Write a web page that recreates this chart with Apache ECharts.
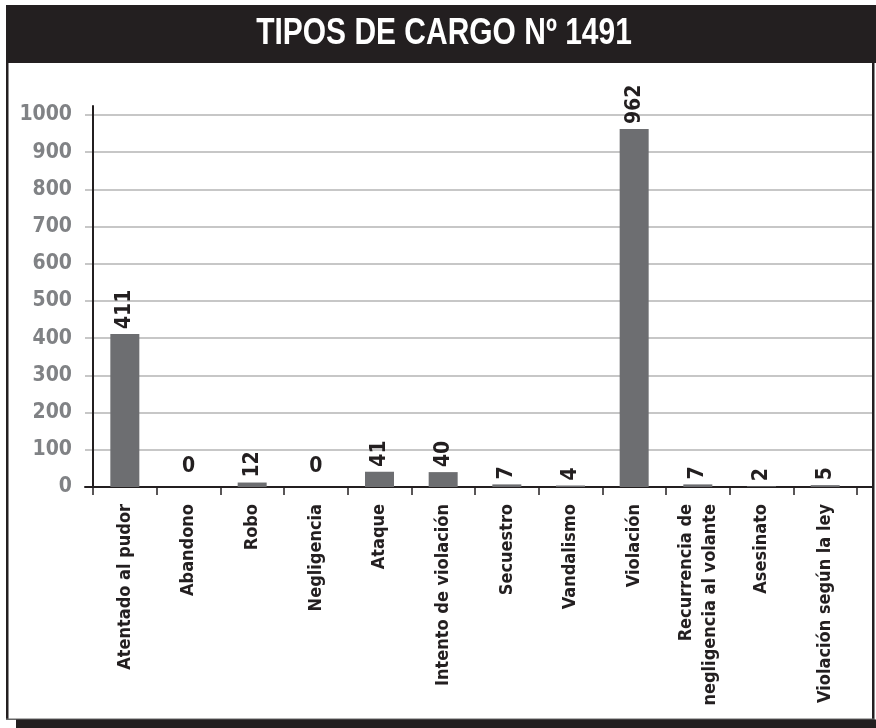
<!DOCTYPE html>
<html>
<head>
<meta charset="utf-8">
<script src="https://cdn.jsdelivr.net/npm/echarts@6/dist/echarts.min.js"></script>
<style>
  html, body { margin: 0; padding: 0; background: #fff; }
  #main { width: 876px; height: 728px; }
</style>
</head>
<body>
<div id="main"></div>
<script>
var titleText = 'TIPOS DE CARGO Nº 1491';
var categories = [
    'Atentado al pudor', 'Abandono', 'Robo', 'Negligencia', 'Ataque',
    'Intento de violación', 'Secuestro', 'Vandalismo', 'Violación',
    'Recurrencia de\nnegligencia al volante', 'Asesinato', 'Violación según la ley'
];
var values = [411, 0, 12, 0, 41, 40, 7, 4, 962, 7, 2, 5];
var yMin = 0;
var yMax = 1000;
var yStep = 100;

var dark = '#231f20';
var condensed = "'DejaVu Sans Condensed', 'Liberation Sans Narrow', sans-serif";

var myChart = echarts.init(document.getElementById('main'));

// zero values get an upright label, others are turned 90 degrees
var barData = values.map(function (v) {
    if (v === 0) {
        return { value: v, label: { rotate: 0, align: 'center', verticalAlign: 'bottom', distance: 10 } };
    }
    return v;
});

var option = {
    animation: false,
    backgroundColor: '#fff',
    graphic: [
        { type: 'rect', shape: { x: 6, y: 5, width: 870, height: 58 }, style: { fill: dark }, z: 0 },
        { type: 'rect', shape: { x: 6, y: 63, width: 2.5, height: 657 }, style: { fill: dark } },
        { type: 'rect', shape: { x: 872, y: 63, width: 2.5, height: 657 }, style: { fill: dark } },
        { type: 'rect', shape: { x: 6, y: 718.5, width: 868, height: 1.5 }, style: { fill: '#666' } },
        { type: 'rect', shape: { x: 16, y: 719.5, width: 860, height: 9 }, style: { fill: dark } },
        {
            type: 'text', x: 444, y: 34, scaleX: 0.81,
            style: {
                text: titleText, fill: '#fff', align: 'center', verticalAlign: 'middle',
                font: "bold 37px 'Liberation Sans', Arial, sans-serif"
            }
        }
    ],
    grid: [
        { left: 93, right: 19, top: 106, bottom: 241, containLabel: false },
        { left: 85, right: 4, top: 115, bottom: 241, containLabel: false }
    ],
    xAxis: [{
        type: 'category',
        gridIndex: 0,
        data: categories,
        axisLine: { show: false },
        axisTick: { show: true, length: 8, lineStyle: { color: dark, width: 1.5 } },
        axisLabel: {
            rotate: 90,
            interval: 0,
            margin: 17,
            color: dark,
            fontFamily: condensed,
            fontWeight: 'bold',
            fontSize: 18,
            lineHeight: 24
        }
    }, {
        type: 'value',
        gridIndex: 1,
        min: 0,
        max: 1,
        axisLine: { show: true, lineStyle: { color: dark, width: 2 } },
        axisTick: { show: false },
        axisLabel: { show: false },
        splitLine: { show: false }
    }],
    yAxis: [{
        type: 'value',
        gridIndex: 0,
        min: yMin,
        max: 1024,
        interval: yStep,
        axisLine: { show: true, lineStyle: { color: dark, width: 2 } },
        axisTick: { show: false },
        splitLine: { show: false },
        axisLabel: {
            showMaxLabel: false,
            margin: 21,
            color: '#808285',
            fontFamily: condensed,
            fontWeight: 'bold',
            fontSize: 21,
            formatter: function (v) { return String(v); }
        }
    }, {
        type: 'value',
        gridIndex: 1,
        min: yMin,
        max: yMax,
        interval: yStep,
        axisLine: { show: false },
        axisTick: { show: false },
        axisLabel: { show: false },
        splitLine: { show: true, lineStyle: { color: '#b5b5b5', width: 1.5 } }
    }],
    series: [{
        type: 'bar',
        xAxisIndex: 0,
        yAxisIndex: 0,
        data: barData,
        barWidth: 29,
        z: 3,
        itemStyle: { color: '#6d6e71' },
        label: {
            show: true,
            position: 'top',
            rotate: 90,
            align: 'left',
            verticalAlign: 'middle',
            distance: 5,
            color: dark,
            fontFamily: condensed,
            fontWeight: 'bold',
            fontSize: 21
        }
    }]
};
myChart.setOption(option);
</script>
</body>
</html>
